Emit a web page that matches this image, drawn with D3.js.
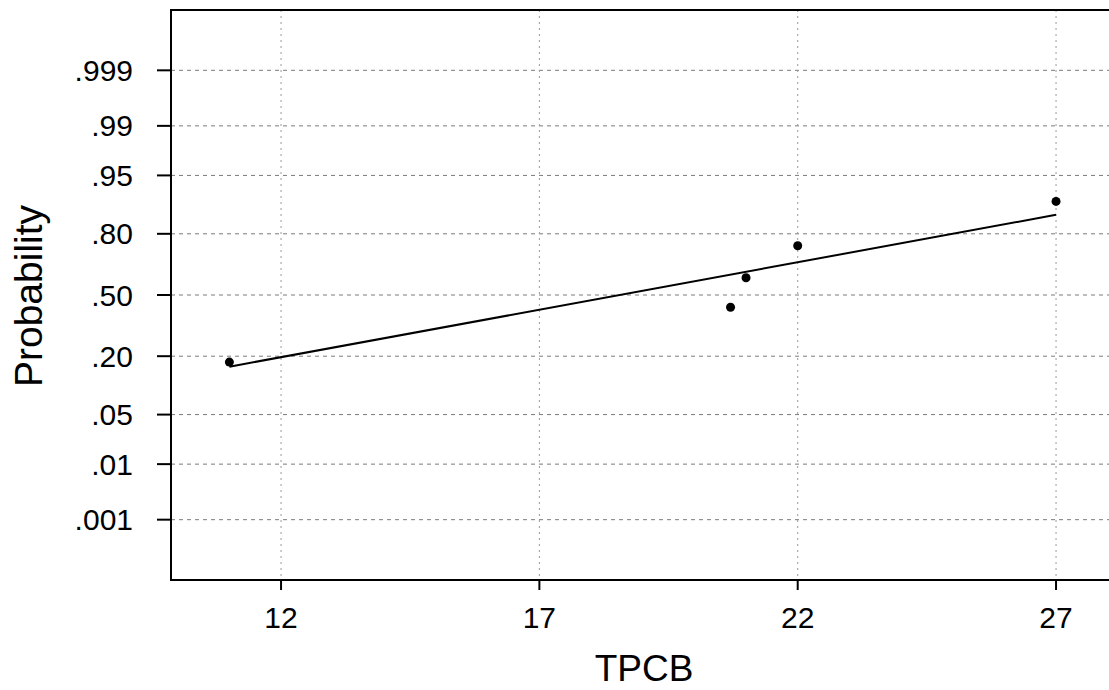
<!DOCTYPE html>
<html>
<head>
<meta charset="utf-8">
<script src="https://cdn.jsdelivr.net/npm/d3@7"></script>
<style>
  html, body { margin: 0; padding: 0; background: #fff; }
  svg { display: block; font-family: "Liberation Sans", Arial, sans-serif; }
</style>
</head>
<body>
<svg id="chart" width="1109" height="690"></svg>
<script>
// ---- data ----
const tpcb = [11.0, 20.7, 21.0, 22.0, 27.0];
const probability = [0.178, 0.433, 0.594, 0.751, 0.901];
const fitMean = 18.55;
const fitSd = 7.66;
const xTicks = [12, 17, 22, 27];
const yTicks = [0.001, 0.01, 0.05, 0.20, 0.50, 0.80, 0.95, 0.99, 0.999];
const yTickLabels = [".001", ".01", ".05", ".20", ".50", ".80", ".95", ".99", ".999"];

// ---- normal helpers ----
function probit(p) {
  const a = [-3.969683028665376e+01, 2.209460984245205e+02, -2.759285104469687e+02,
             1.383577518672690e+02, -3.066479806614716e+01, 2.506628277459239e+00];
  const b = [-5.447609879822406e+01, 1.615858368580409e+02, -1.556989798598866e+02,
             6.680131188771972e+01, -1.328068155288572e+01];
  const c = [-7.784894002430293e-03, -3.223964580411365e-01, -2.400758277161838e+00,
             -2.549732539343734e+00, 4.374664141464968e+00, 2.938163982698783e+00];
  const d = [7.784695709041462e-03, 3.224671290700398e-01, 2.445134137142996e+00,
             3.754408661907416e+00];
  const pl = 0.02425, ph = 1 - pl;
  let q, r;
  if (p < pl) {
    q = Math.sqrt(-2 * Math.log(p));
    return (((((c[0]*q+c[1])*q+c[2])*q+c[3])*q+c[4])*q+c[5]) /
           ((((d[0]*q+d[1])*q+d[2])*q+d[3])*q+1);
  } else if (p <= ph) {
    q = p - 0.5; r = q * q;
    return (((((a[0]*r+a[1])*r+a[2])*r+a[3])*r+a[4])*r+a[5])*q /
           (((((b[0]*r+b[1])*r+b[2])*r+b[3])*r+b[4])*r+1);
  } else {
    q = Math.sqrt(-2 * Math.log(1 - p));
    return -(((((c[0]*q+c[1])*q+c[2])*q+c[3])*q+c[4])*q+c[5]) /
            ((((d[0]*q+d[1])*q+d[2])*q+d[3])*q+1);
  }
}
function erf(v) {
  const s = Math.sign(v); v = Math.abs(v);
  const t = 1 / (1 + 0.3275911 * v);
  const r = 1 - (((((1.061405429 * t - 1.453152027) * t) + 1.421413741) * t - 0.284496736) * t + 0.254829592) * t * Math.exp(-v * v);
  return s * r;
}
function normCdf(z) { return 0.5 * (1 + erf(z / Math.SQRT2)); }

// ---- layout ----
const svg = d3.select("#chart");
const plotLeft = 171, plotTop = 10, plotBottom = 580;

const x = d3.scaleLinear().domain([9.87, 28.6]).range([plotLeft, 1138.7]);
const zScale = d3.scaleLinear().domain([-3.92, 3.92]).range([plotBottom, plotTop]);
const y = p => zScale(probit(p));
const plotRight = x.range()[1];

// grid lines
const grid = svg.append("g");
grid.selectAll("line.h").data(yTicks).join("line")
  .attr("class", "h")
  .attr("x1", plotLeft).attr("x2", plotRight)
  .attr("y1", d => y(d)).attr("y2", d => y(d))
  .attr("stroke", "#7a7a7a").attr("stroke-width", 1)
  .attr("stroke-dasharray", "4,4");
grid.selectAll("line.v").data(xTicks).join("line")
  .attr("class", "v")
  .attr("x1", d => x(d)).attr("x2", d => x(d))
  .attr("y1", plotTop).attr("y2", plotBottom)
  .attr("stroke", "#9a9a9a").attr("stroke-width", 1)
  .attr("stroke-dasharray", "2,4");

// frame
svg.append("path")
  .attr("d", `M${plotRight},${plotTop}H${plotLeft}V${plotBottom}H${plotRight}`)
  .attr("fill", "none").attr("stroke", "#000").attr("stroke-width", 2);

// y axis ticks + labels
const yAxis = svg.append("g");
yAxis.selectAll("line").data(yTicks).join("line")
  .attr("x1", plotLeft - 14).attr("x2", plotLeft)
  .attr("y1", d => y(d)).attr("y2", d => y(d))
  .attr("stroke", "#000").attr("stroke-width", 2);
yAxis.selectAll("text").data(yTicks).join("text")
  .attr("x", 133).attr("y", d => y(d))
  .attr("dy", "0.35em")
  .attr("text-anchor", "end")
  .attr("font-size", 30)
  .text((d, i) => yTickLabels[i]);

// x axis ticks + labels
const xAxis = svg.append("g");
xAxis.selectAll("line").data(xTicks).join("line")
  .attr("x1", d => x(d)).attr("x2", d => x(d))
  .attr("y1", plotBottom).attr("y2", plotBottom + 10)
  .attr("stroke", "#000").attr("stroke-width", 2);
xAxis.selectAll("text").data(xTicks).join("text")
  .attr("x", d => x(d)).attr("y", 628)
  .attr("text-anchor", "middle")
  .attr("font-size", 30)
  .text(d => d);

// axis titles
svg.append("text")
  .attr("x", 644).attr("y", 681)
  .attr("text-anchor", "middle")
  .attr("font-size", 37)
  .text("TPCB");
svg.append("text")
  .attr("transform", "translate(42,296) rotate(-90)")
  .attr("text-anchor", "middle")
  .attr("font-size", 39)
  .text("Probability");

// fitted line
const xMin = d3.min(tpcb), xMax = d3.max(tpcb);
const fitPts = [xMin, xMax].map(v => [v, normCdf((v - fitMean) / fitSd)]);
svg.append("path")
  .attr("d", d3.line().x(d => x(d[0])).y(d => y(d[1]))(fitPts))
  .attr("fill", "none").attr("stroke", "#000").attr("stroke-width", 2);

// points
svg.append("g").selectAll("circle").data(tpcb).join("circle")
  .attr("cx", d => x(d))
  .attr("cy", (d, i) => y(probability[i]))
  .attr("r", 4.5)
  .attr("fill", "#000");
</script>
</body>
</html>
